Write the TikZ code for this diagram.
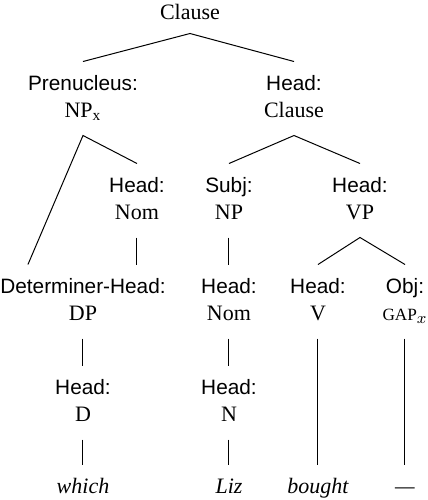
\documentclass[tikz,border=0pt]{standalone}
\usepackage{fontspec}
\setmainfont{Liberation Serif}
\setsansfont{Liberation Sans}

\tikzstyle{cat}=[align=center,inner sep=0pt,outer ysep=5pt,font=\fontsize{11}{13.5}\selectfont]
\tikzstyle{word}=[cat,font=\fontsize{11}{13.5}\selectfont\itshape]
\tikzstyle{branch}=[line width=0.5pt]

\newcommand{\fnlab}[2]{{\sffamily\fontsize{10.4}{13.5}\selectfont\strut#1}\\\strut#2}
\newcommand{\gapcat}{{\fontsize{8.6}{13.5}\selectfont GAP}$_{x}$}

\begin{document}
\begin{tikzpicture}[x=0.5pt,y=-0.5pt]
\useasboundingbox (0,0) rectangle (428,500);
% top
\node[cat,outer ysep=3pt] (clause) at (190,14) {\strut Clause};
% 1st row
\node[cat] (prenuc) at (83,98.5) {\fnlab{Prenucleus:}{NP$_{\mathrm{x}}$}};
\node[cat] (hdclause) at (294,98.5) {\fnlab{Head:}{Clause}};
% 2nd row
\node[cat] (hdnom) at (137,200.5) {\fnlab{Head:}{Nom}};
\node[cat] (subj) at (229,200.5) {\fnlab{Subj:}{NP}};
\node[cat] (hdvp) at (360,200.5) {\fnlab{Head:}{VP}};
% 3rd row
\node[cat] (dh) at (83,301.5) {\fnlab{Determiner-Head:}{DP}};
\node[cat] (hdnom2) at (229,301.5) {\fnlab{Head:}{Nom}};
\node[cat] (hdv) at (318,301.5) {\fnlab{Head:}{V}};
\node[cat] (obj) at (405,301.5) {\fnlab{Obj:}{\gapcat}};
% 4th row
\node[cat] (hdd) at (83,402.5) {\fnlab{Head:}{D}};
\node[cat] (hdn) at (229,402.5) {\fnlab{Head:}{N}};
% words
\node[word] (which) at (83,488.5) {\strut which};
\node[word] (liz) at (229,488.5) {\strut Liz};
\node[word] (bought) at (318,488.5) {\strut bought};
\node[word] (gap) at (405,488.5) {\strut ---};

\coordinate (dhleft) at ([xshift=14pt]dh.north west);
\coordinate (nomend) at (hdnom.south |- dh.north);

% branches
\draw[branch] (prenuc.north) -- (clause.south) -- (hdclause.north);
\draw[branch] (dhleft) -- (prenuc.south) -- (hdnom.north);
\draw[branch] (subj.north) -- (hdclause.south) -- (hdvp.north);
\draw[branch] (hdv.north) -- (hdvp.south) -- (obj.north);
\draw[branch] (hdnom.south) -- (nomend);
\draw[branch] (subj.south) -- (hdnom2.north);
\draw[branch] (dh.south) -- (hdd.north);
\draw[branch] (hdnom2.south) -- (hdn.north);
\draw[branch] (hdd.south) -- (which.north);
\draw[branch] (hdn.south) -- (liz.north);
\draw[branch] (hdv.south) -- (bought.north);
\draw[branch] (obj.south) -- (gap.north);
\end{tikzpicture}
\end{document}
